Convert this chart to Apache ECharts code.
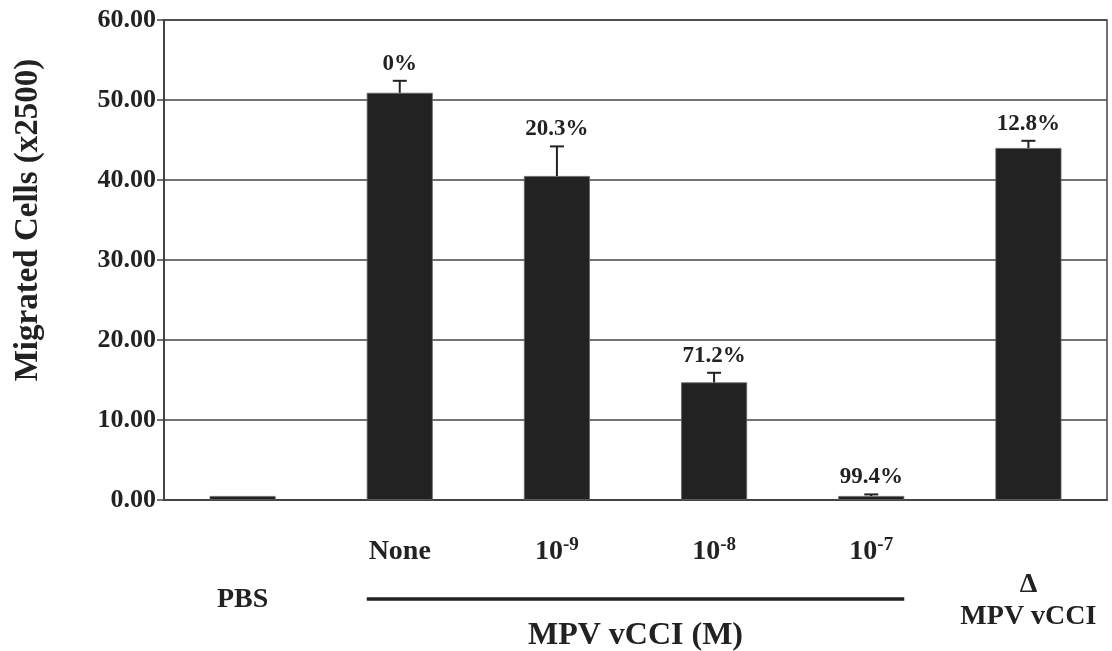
<!DOCTYPE html>
<html>
<head>
<meta charset="utf-8">
<script src="https://cdn.jsdelivr.net/npm/echarts@6/dist/echarts.min.js"></script>
<style>
  html, body { margin: 0; padding: 0; background: #fff; }
  #chart { width: 1112px; height: 651px; }
</style>
</head>
<body>
<div id="chart"></div>
<script>
// Treatment groups along the x axis
const categories = ['PBS', 'None', '10-9', '10-8', '10-7', 'dMPV'];
// Mean migrated cells (x2500) per group
const means = [0.5, 50.9, 40.5, 14.7, 0.5, 44.0];
// Standard error (upper whisker) per group
const errors = [0, 1.5, 3.7, 1.2, 0.2, 0.9];
// Percent inhibition printed above each bar
const inhibition = ['', '0%', '20.3%', '71.2%', '99.4%', '12.8%'];
// Y axis scale
const yMin = 0, yMax = 60, yStep = 10;

const FONT = '"Liberation Serif", "Times New Roman", serif';
const INK = '#222';

const chart = echarts.init(document.getElementById('chart'), null, { renderer: 'canvas' });

const errData = categories.map((c, i) => [i, means[i], errors[i], inhibition[i]]);

function labelFor(value) {
  if (value === 'PBS') return '{gapA| }\n{n|PBS}';
  if (value === 'None') return '{n|None}';
  if (value === 'dMPV') return '{gapB| }\n{n|Δ}\n{n|MPV vCCI}';
  const exp = value.slice(2);
  return '{n|10}{sup|' + exp + '}';
}

chart.setOption({
  animation: false,
  backgroundColor: '#fff',
  grid: {
    left: 164, right: 5, top: 20, bottom: 151,
    show: true, borderColor: '#444', borderWidth: 1.5, backgroundColor: 'transparent'
  },
  xAxis: {
    type: 'category',
    data: categories,
    axisLine: { lineStyle: { color: '#444', width: 2 } },
    axisTick: { show: false },
    axisLabel: {
      interval: 0,
      margin: 36,
      formatter: labelFor,
      rich: {
        n: { fontFamily: FONT, fontWeight: 'bold', fontSize: 28, lineHeight: 32, color: INK },
        sup: { fontFamily: FONT, fontWeight: 'bold', fontSize: 19, lineHeight: 20, verticalAlign: 'top', color: INK },
        gapA: { fontSize: 10, lineHeight: 48 },
        gapB: { fontSize: 10, lineHeight: 33 }
      }
    }
  },
  yAxis: {
    type: 'value',
    min: yMin, max: yMax, interval: yStep,
    axisLine: { show: true, lineStyle: { color: '#444', width: 2 } },
    axisTick: { show: true, length: 7, lineStyle: { color: '#444', width: 1.5 } },
    axisLabel: {
      margin: 8,
      formatter: v => v.toFixed(2),
      fontFamily: FONT, fontWeight: 'bold', fontSize: 26, color: INK
    },
    splitLine: { show: true, lineStyle: { color: '#444', width: 1.5 } }
  },
  series: [
    {
      type: 'bar',
      data: means,
      barWidth: '42%',
      itemStyle: { color: INK, borderColor: '#666', borderWidth: 0.8 },
      z: 2
    },
    {
      type: 'custom',
      data: errData,
      z: 3,
      renderItem: function (params, api) {
        const i = api.value(0);
        const m = api.value(1);
        const e = api.value(2);
        const txt = inhibition[i];
        const base = api.coord([i, m]);
        const top = api.coord([i, m + e]);
        const children = [];
        if (e > 0) {
          children.push({
            type: 'line',
            shape: { x1: base[0], y1: base[1], x2: top[0], y2: top[1] },
            style: { stroke: INK, lineWidth: 2 }
          });
          children.push({
            type: 'line',
            shape: { x1: top[0] - 7, y1: top[1], x2: top[0] + 7, y2: top[1] },
            style: { stroke: INK, lineWidth: 2 }
          });
        }
        if (txt) {
          children.push({
            type: 'text',
            style: {
              text: txt, x: top[0], y: top[1] - 17,
              textAlign: 'center', textVerticalAlign: 'middle',
              font: 'bold 23px ' + FONT, fill: INK
            }
          });
        }
        return { type: 'group', children: children };
      }
    }
  ]
});

// Group bracket and annotations placed from the category positions
const x0 = chart.convertToPixel({ xAxisIndex: 0 }, 0);
const x5 = chart.convertToPixel({ xAxisIndex: 0 }, 5);
const band = (x5 - x0) / 5;
const half = band * 0.42 / 2;
const xNone = chart.convertToPixel({ xAxisIndex: 0 }, 1);
const x7 = chart.convertToPixel({ xAxisIndex: 0 }, 4);
const y0 = chart.convertToPixel({ yAxisIndex: 0 }, 0);
const yMid = chart.convertToPixel({ yAxisIndex: 0 }, 35);

chart.setOption({
  graphic: [
    {
      type: 'line',
      shape: { x1: xNone - half, y1: y0 + 99, x2: x7 + half, y2: y0 + 99 },
      style: { stroke: INK, lineWidth: 3.5 }
    },
    {
      type: 'text',
      x: (xNone + x7) / 2, y: y0 + 136,
      style: {
        text: 'MPV vCCI (M)', textAlign: 'center', textVerticalAlign: 'middle',
        font: 'bold 32px ' + FONT, fill: INK
      }
    },
    {
      type: 'text',
      x: 28, y: yMid,
      rotation: Math.PI / 2,
      style: {
        text: 'Migrated Cells (x2500)', textAlign: 'center', textVerticalAlign: 'middle',
        font: 'bold 33px ' + FONT, fill: INK
      }
    }
  ]
});
</script>
</body>
</html>
